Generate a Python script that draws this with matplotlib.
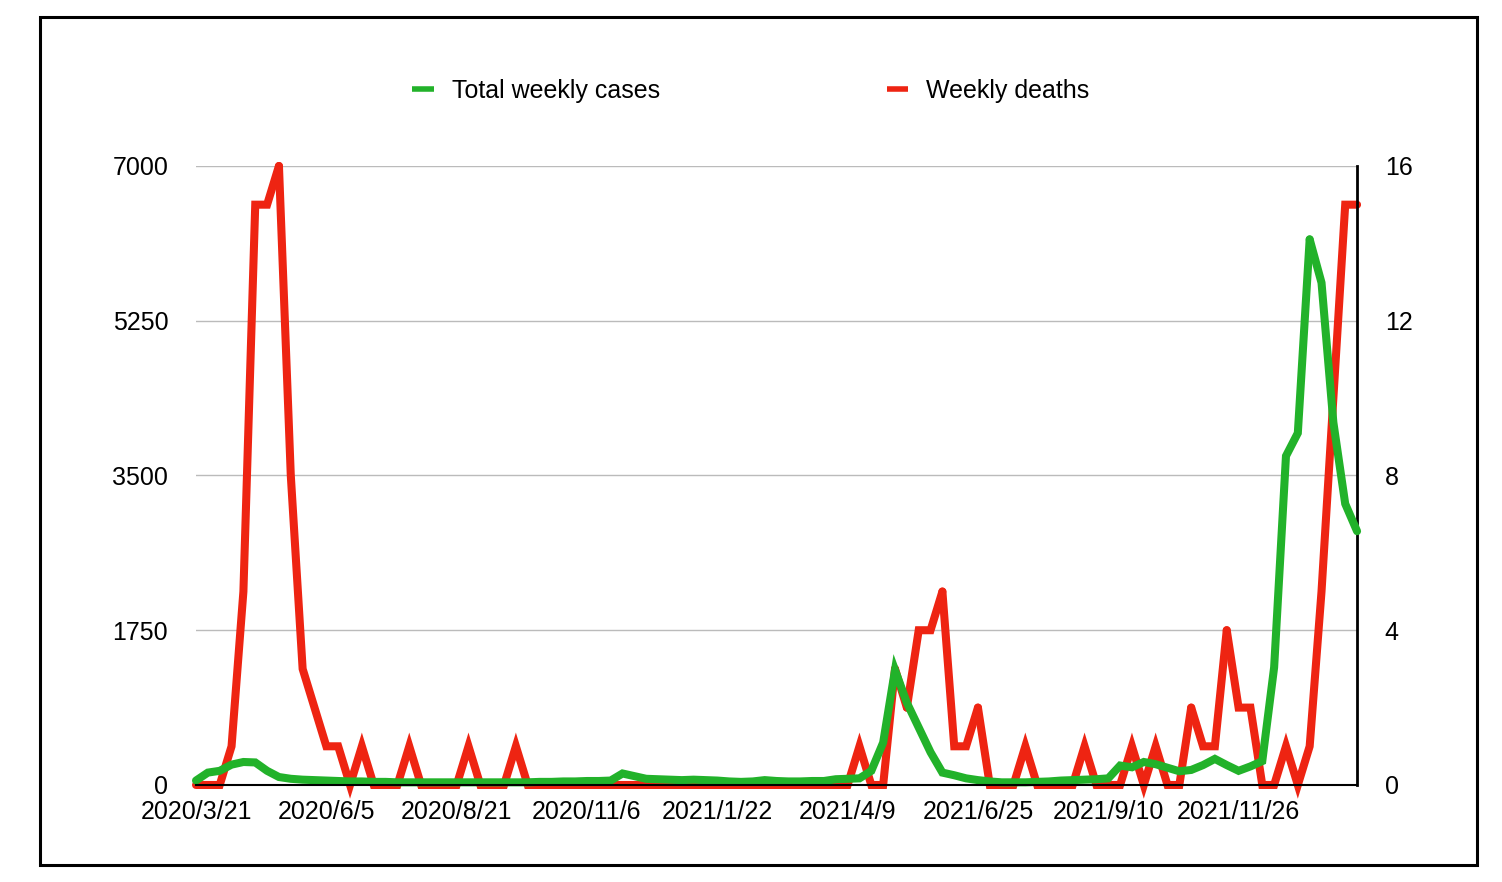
import math
import matplotlib
matplotlib.use('Agg')
import matplotlib.pyplot as plt
from matplotlib.patches import Rectangle

plt.rcParams['font.family'] = ['Liberation Sans', 'DejaVu Sans']

# Weekly series, one value per week starting 2020/3/21
weekly_cases = [
    50, 140, 160, 230, 260, 255, 160, 90, 70, 60,
    55, 50, 45, 40, 40, 35, 35, 30, 30, 30,
    30, 30, 30, 30, 30, 30, 30, 30, 30, 35,
    35, 40, 40, 45, 45, 50, 130, 100, 70, 65,
    60, 55, 60, 55, 50, 40, 35, 40, 55, 45,
    40, 40, 45, 45, 65, 70, 75, 160, 480, 1300,
    930, 650, 370, 140, 110, 75, 55, 40, 30, 30,
    30, 35, 40, 50, 55, 60, 65, 75, 220, 200,
    260, 235, 195, 155, 170, 225, 295, 225, 160, 210,
    270, 1330, 3720, 3980, 6170, 5680, 4100, 3180, 2870,
]
weekly_deaths = [
    0, 0, 0, 1, 5, 15, 15, 16, 8, 3,
    2, 1, 1, 0, 1, 0, 0, 0, 1, 0,
    0, 0, 0, 1, 0, 0, 0, 1, 0, 0,
    0, 0, 0, 0, 0, 0, 0, 0, 0, 0,
    0, 0, 0, 0, 0, 0, 0, 0, 0, 0,
    0, 0, 0, 0, 0, 0, 1, 0, 0, 3,
    2, 4, 4, 5, 1, 1, 2, 0, 0, 0,
    1, 0, 0, 0, 0, 1, 0, 0, 0, 1,
    0, 1, 0, 0, 2, 1, 1, 4, 2, 2,
    0, 0, 1, 0, 1, 5, 10, 15, 15,
]
date_labels = ['2020/3/21', '2020/6/5', '2020/8/21', '2020/11/6', '2021/1/22',
               '2021/4/9', '2021/6/25', '2021/9/10', '2021/11/26']
cases_ticks = [0, 1750, 3500, 5250, 7000]
deaths_ticks = [0, 4, 8, 12, 16]

green = '#22B22A'
red = '#EE2412'
fs = 18


def plot_line(ax, x, y, label, **kw):
    # miter joins, but break the line at very sharp corners so they look bevelled
    pts = ax.transData.transform(list(zip(x, y)))
    cuts = [0]
    for i in range(1, len(x) - 1):
        ax_, ay_ = pts[i - 1] - pts[i]
        bx_, by_ = pts[i + 1] - pts[i]
        la, lb = math.hypot(ax_, ay_), math.hypot(bx_, by_)
        if la == 0 or lb == 0:
            continue
        cosang = max(-1.0, min(1.0, (ax_ * bx_ + ay_ * by_) / (la * lb)))
        ang = math.acos(cosang)
        if ang > 0 and 1 / math.sin(ang / 2) > 4:
            cuts.append(i)
    cuts.append(len(x) - 1)
    for k in range(len(cuts) - 1):
        a, b = cuts[k], cuts[k + 1]
        ax.plot(x[a:b + 1], y[a:b + 1], solid_joinstyle='miter',
                solid_capstyle='round', clip_on=False,
                label=label if k == 0 else '_nolegend_', **kw)


fig = plt.figure(figsize=(15.02, 8.82), dpi=100)
ax = fig.add_axes([0.1305, 0.110, 0.7730, 0.7018])
ax2 = ax.twinx()

x = list(range(len(weekly_cases)))

# deaths on the right axis (drawn underneath), gridlines live here
ax2.set_ylim(0, 16)
ax2.set_xlim(0, len(x) - 1)
plot_line(ax2, x, weekly_deaths, 'Weekly deaths', color=red, lw=5.8)
ax2.set_yticks(deaths_ticks)
ax2.grid(axis='y', color='#BBBBBB', lw=1)
ax2.set_axisbelow(True)
ax2.tick_params(axis='y', length=0, pad=20, labelsize=fs)
for s in ['left', 'top', 'bottom']:
    ax2.spines[s].set_visible(False)
ax2.spines['right'].set_linewidth(2)
ax2.spines['right'].set_color('black')

# cases on the left axis, on top
ax.set_zorder(ax2.get_zorder() + 1)
ax.patch.set_visible(False)
ax.set_ylim(0, 7000)
ax.set_xlim(0, len(x) - 1)
plot_line(ax, x, weekly_cases, 'Total weekly cases', color=green, lw=5.8)
ax.set_yticks(cases_ticks)
ax.set_xticks(range(0, len(x), 11))
ax.set_xticklabels(date_labels)
ax.tick_params(axis='y', length=0, pad=20, labelsize=fs)
ax.tick_params(axis='x', length=0, pad=11, labelsize=fs)
for s in ['left', 'top', 'right']:
    ax.spines[s].set_visible(False)
ax.spines['bottom'].set_linewidth(1.5)
ax.spines['bottom'].set_color('black')

h1, l1 = ax.get_legend_handles_labels()
h2, l2 = ax2.get_legend_handles_labels()
leg = fig.legend(h1 + h2, l1 + l2, loc='center', bbox_to_anchor=(0.5, 0.897),
                 ncol=2, frameon=False, fontsize=fs, handlelength=0.85,
                 handletextpad=0.72, columnspacing=9.1)
for line in leg.get_lines():
    line.set_linewidth(4)
    line.set_solid_capstyle('butt')

# outer frame
fig.patches.append(Rectangle((40 / 1502, 17 / 882), 1437 / 1502, 848 / 882,
                             transform=fig.transFigure, fill=False,
                             edgecolor='black', lw=2.2))

fig.savefig('out.png', dpi=100)
